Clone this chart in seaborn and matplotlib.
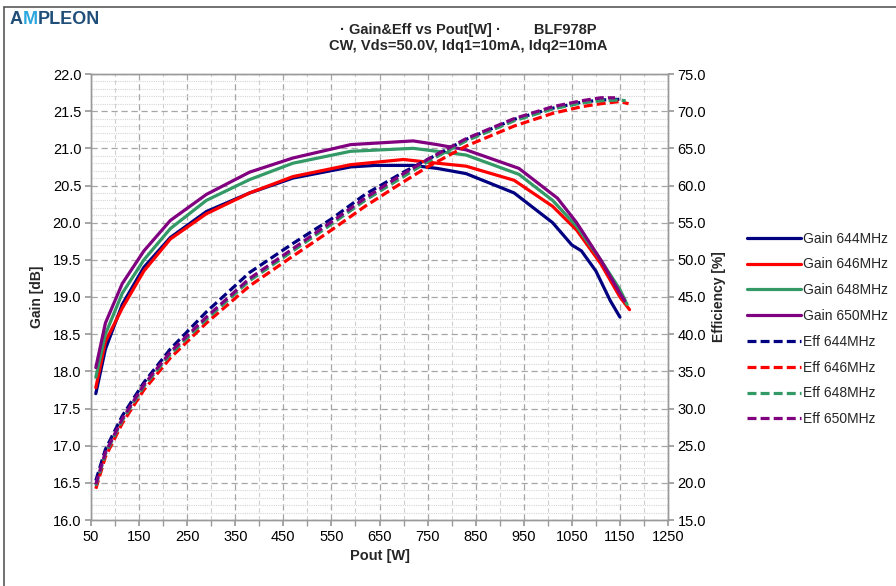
import numpy as np
import pandas as pd
import matplotlib
matplotlib.use("Agg")
import matplotlib.pyplot as plt
import seaborn as sns
from matplotlib.ticker import MultipleLocator, FormatStrFormatter
from matplotlib.lines import Line2D

# ---------------- data ----------------
frequencies = ["644MHz", "646MHz", "648MHz", "650MHz"]
colors = ["#000080", "#FF0000", "#339966", "#800080"]

pout_gain_644 = [60, 80, 115, 160, 215, 290, 380, 470, 590, 640, 720, 770, 830, 930, 1010, 1050, 1070, 1100, 1130, 1150]
gain_644 = [17.70, 18.30, 18.90, 19.40, 19.80, 20.15, 20.40, 20.60, 20.75, 20.77, 20.77, 20.73, 20.66, 20.40, 20.00, 19.70, 19.62, 19.35, 18.95, 18.73]

pout_gain_646 = [60, 80, 115, 160, 215, 290, 380, 470, 590, 700, 770, 830, 930, 1010, 1060, 1110, 1150, 1170]
gain_646 = [17.78, 18.40, 18.85, 19.35, 19.78, 20.12, 20.40, 20.62, 20.78, 20.85, 20.80, 20.76, 20.57, 20.22, 19.90, 19.45, 19.00, 18.83]

pout_gain_648 = [60, 80, 115, 160, 215, 290, 380, 470, 590, 720, 770, 830, 940, 1010, 1060, 1110, 1150, 1165]
gain_648 = [17.92, 18.50, 19.05, 19.50, 19.92, 20.30, 20.58, 20.80, 20.96, 21.00, 20.96, 20.91, 20.65, 20.30, 19.95, 19.50, 19.10, 18.90]

pout_gain_650 = [60, 80, 115, 160, 215, 290, 380, 470, 590, 720, 770, 830, 940, 1020, 1060, 1110, 1150, 1160]
gain_650 = [18.05, 18.65, 19.18, 19.62, 20.03, 20.38, 20.68, 20.87, 21.05, 21.10, 21.05, 20.98, 20.73, 20.33, 20.00, 19.50, 19.05, 18.95]

pout_eff_644 = [60, 80, 115, 160, 215, 290, 380, 470, 550, 620, 700, 750, 830, 930, 1010, 1070, 1110, 1150]
eff_644 = [20.3, 24.5, 29.0, 33.5, 38.0, 43.0, 48.3, 52.2, 55.5, 58.8, 61.8, 63.5, 66.2, 68.9, 70.4, 71.2, 71.5, 71.6]

pout_eff_646 = [60, 80, 115, 160, 215, 290, 380, 470, 550, 620, 700, 750, 830, 930, 1010, 1070, 1110, 1150, 1168]
eff_646 = [19.2, 23.5, 28.0, 32.5, 36.8, 41.5, 46.5, 50.5, 54.0, 57.2, 60.5, 62.5, 65.3, 68.0, 69.7, 70.6, 71.0, 71.3, 71.0]

pout_eff_648 = [60, 80, 115, 160, 215, 290, 380, 470, 550, 620, 700, 750, 830, 930, 1010, 1070, 1110, 1150, 1162]
eff_648 = [19.6, 23.9, 28.4, 33.0, 37.3, 42.0, 47.2, 51.2, 54.8, 58.0, 61.2, 63.2, 66.0, 68.7, 70.3, 71.1, 71.4, 71.5, 71.4]

pout_eff_650 = [60, 80, 115, 160, 215, 290, 380, 470, 550, 620, 700, 750, 830, 930, 1010, 1070, 1110, 1140]
eff_650 = [19.8, 24.1, 28.6, 33.2, 37.6, 42.3, 47.5, 51.5, 55.1, 58.3, 61.6, 63.5, 66.3, 69.0, 70.6, 71.4, 71.8, 71.8]

x_ticks = [50, 150, 250, 350, 450, 550, 650, 750, 850, 950, 1050, 1150, 1250]

title_line1 = "· Gain&Eff vs Pout[W] ·        BLF978P"
title_line2 = "CW, Vds=50.0V, Idq1=10mA, Idq2=10mA"

gain_sets = [(pout_gain_644, gain_644), (pout_gain_646, gain_646),
             (pout_gain_648, gain_648), (pout_gain_650, gain_650)]
eff_sets = [(pout_eff_644, eff_644), (pout_eff_646, eff_646),
            (pout_eff_648, eff_648), (pout_eff_650, eff_650)]

# ---------------- style ----------------
sns.set_theme(style="white")
plt.rcParams['font.family'] = ['Liberation Sans', 'DejaVu Sans']

fig = plt.figure(figsize=(8.96, 5.86), dpi=100)
ax = fig.add_axes([91/896, 1-520/586, (668-91)/896, (520-74)/586])
ax2 = ax.twinx()

LW = 2.3
DASH = (0, (2.8, 1.3))

for (xs, ys), f, c in zip(gain_sets, frequencies, colors):
    df = pd.DataFrame({"Pout": xs, "Gain": ys})
    sns.lineplot(data=df, x="Pout", y="Gain", ax=ax, color=c, lw=LW,
                 sort=False, estimator=None, legend=False)

for (xs, ys), f, c in zip(eff_sets, frequencies, colors):
    df = pd.DataFrame({"Pout": xs, "Eff": ys})
    sns.lineplot(data=df, x="Pout", y="Eff", ax=ax2, color=c, lw=LW,
                 linestyle=DASH, sort=False, estimator=None, legend=False)

ax.set_xlim(50, 1250)
ax.set_ylim(16.0, 22.0)
ax2.set_ylim(15.0, 75.0)

ax.set_xticks(x_ticks)
ax.xaxis.set_minor_locator(MultipleLocator(50))
ax.yaxis.set_major_locator(MultipleLocator(0.5))
ax.yaxis.set_minor_locator(MultipleLocator(0.1))
ax.yaxis.set_major_formatter(FormatStrFormatter("%.1f"))
ax2.yaxis.set_major_locator(MultipleLocator(5))
ax2.yaxis.set_major_formatter(FormatStrFormatter("%.1f"))

ax.grid(which='major', axis='both', color='#A6A6A6', linestyle=(0, (5, 3)), lw=0.9)
ax.grid(which='minor', axis='x', color='#CFCFCF', linestyle=(0, (4, 3)), lw=0.8)
ax.grid(which='minor', axis='y', color='#D6D6D6', linestyle=(0, (1, 1)), lw=0.8)
ax2.grid(False)
ax.set_axisbelow(True)

spine_c = '#9A9A9A'
for a in (ax, ax2):
    for s in a.spines.values():
        s.set_color(spine_c)
        s.set_linewidth(1.0)

ax.tick_params(axis='both', which='major', direction='out', length=4, color=spine_c,
               labelsize=10.5, pad=3, bottom=True, left=True, labelcolor='black')
ax.tick_params(axis='x', which='minor', direction='out', length=4, color=spine_c, bottom=True)
ax.tick_params(axis='y', which='minor', left=False)
ax2.tick_params(axis='y', which='major', direction='out', length=4, color=spine_c,
                labelsize=10.5, pad=3, right=True, labelcolor='black')

ax.set_xlabel("Pout [W]", fontsize=10.5, fontweight='bold', labelpad=4)
ax.set_ylabel("Gain [dB]", fontsize=10, fontweight='bold', labelpad=6)
ax2.set_ylabel("Efficiency [%]", fontsize=10, fontweight='bold', labelpad=4)

# titles
fig.text(468/896, 1-30/586, title_line1, ha='center', va='center', fontsize=10.5,
         fontweight='bold')
fig.text(468/896, 1-46/586, title_line2, ha='center', va='center', fontsize=10.5,
         fontweight='bold')

# logo
fig.canvas.draw()
r = fig.canvas.get_renderer()
xpos = 10
for part, col in (("A", "#1F4E79"), ("M", "#2AA7DF"), ("PLEON", "#1F4E79")):
    t = fig.text(xpos/896, 1-20/586, part, ha='left', va='center', fontsize=13,
                 color=col, fontweight='bold')
    bb = t.get_window_extent(renderer=r)
    xpos += bb.width

# border lines
fig.add_artist(Line2D([4/896, 4/896], [0, 1-7/586], transform=fig.transFigure, color='#595959', lw=1.2))
fig.add_artist(Line2D([4/896, 1], [1-7/586, 1-7/586], transform=fig.transFigure, color='#595959', lw=1.2))

# legend
handles = []
labels = []
for f, c in zip(frequencies, colors):
    handles.append(Line2D([], [], color=c, lw=LW))
    labels.append(f"Gain {f}")
for f, c in zip(frequencies, colors):
    handles.append(Line2D([], [], color=c, lw=LW, linestyle=DASH))
    labels.append(f"Eff {f}")
leg = fig.legend(handles, labels, loc='upper left', bbox_to_anchor=(741/896, 1-226/586),
                 frameon=False, fontsize=10, handlelength=3.9, handletextpad=0.15,
                 labelspacing=0.85, borderaxespad=0)

fig.savefig("out.png", dpi=100)
